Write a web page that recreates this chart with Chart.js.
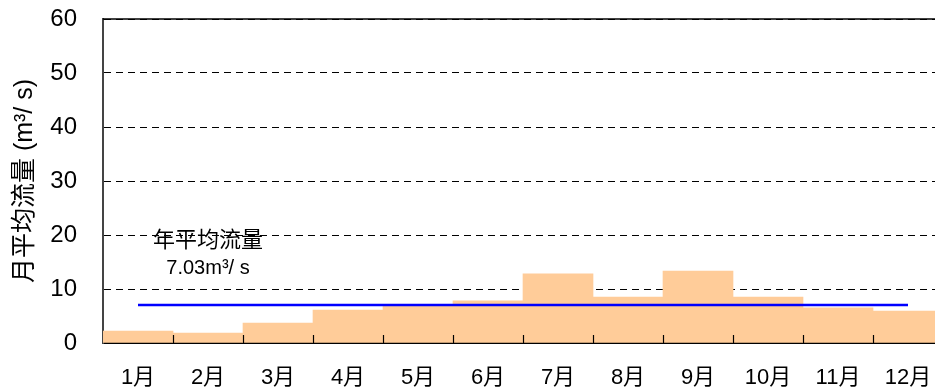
<!DOCTYPE html>
<html>
<head>
<meta charset="utf-8">
<script src="https://cdn.jsdelivr.net/npm/chart.js@4.4.1/dist/chart.umd.min.js"></script>
<style>
  html, body { margin: 0; padding: 0; overflow: hidden; background: #fff; }
  canvas { display: block; }
</style>
</head>
<body>
<canvas id="graficoVazao" width="943" height="392"></canvas>
<script>
// Meses e vazão média mensal (m³/s)
const meses = ['1月', '2月', '3月', '4月', '5月', '6月', '7月', '8月', '9月', '10月', '11月', '12月'];
const vazaoMensal = [2.2, 1.85, 3.7, 6.1, 6.9, 7.8, 12.8, 8.5, 13.3, 8.5, 6.5, 5.9];
// Vazão média anual, repetida em cada mês para traçar a linha
const vazaoAnual = [7.03, 7.03, 7.03, 7.03, 7.03, 7.03, 7.03, 7.03, 7.03, 7.03, 7.03, 7.03];
const rotuloAnual = ['年平均流量', '7.03m³/ s'];
const tituloEixoY = '月平均流量 (m³/ s)';

const fonteTexto = '"Liberation Sans", Arial, "Noto Sans CJK SC", sans-serif';

// Linha sólida no topo, marcas entre os meses e o texto da média anual
const extras = {
    id: 'extras',
    afterDraw(chart) {
        const ctx = chart.ctx;
        const area = chart.chartArea;
        const x = chart.scales.x;
        const y = chart.scales.y;

        ctx.save();
        ctx.strokeStyle = '#000';
        ctx.lineWidth = 1.5;
        ctx.beginPath();
        ctx.moveTo(area.left, area.top);
        ctx.lineTo(area.right, area.top);
        ctx.stroke();

        // marquinhas para cima nas divisas entre categorias
        const passo = (x.right - x.left) / meses.length;
        ctx.lineWidth = 1.2;
        for (let k = 1; k < meses.length; k++) {
            const px = Math.round(x.left + k * passo) + 0.5;
            ctx.beginPath();
            ctx.moveTo(px, area.bottom);
            ctx.lineTo(px, area.bottom - 8);
            ctx.stroke();
        }

        // texto da média anual
        ctx.fillStyle = '#000';
        ctx.textAlign = 'center';
        ctx.textBaseline = 'middle';
        const cx = x.getPixelForValue(1);
        ctx.font = '22px ' + fonteTexto;
        ctx.fillText(rotuloAnual[0], cx, y.getPixelForValue(18.9));
        ctx.font = '20px ' + fonteTexto;
        ctx.fillText(rotuloAnual[1], cx, y.getPixelForValue(13.8));
        ctx.restore();
    }
};

const ctx = document.getElementById('graficoVazao').getContext('2d');

new Chart(ctx, {
    data: {
        labels: meses,
        datasets: [
            {
                type: 'line',
                data: vazaoAnual,
                borderColor: '#0000ff',
                borderWidth: 2.5,
                pointRadius: 0,
                fill: false,
                order: 0
            },
            {
                type: 'bar',
                data: vazaoMensal,
                backgroundColor: '#ffcc99',
                borderWidth: 0,
                barPercentage: 1,
                categoryPercentage: 1,
                order: 1
            }
        ]
    },
    options: {
        responsive: false,
        animation: false,
        layout: { padding: { top: 19, right: 0, bottom: 0, left: 0 } },
        plugins: {
            legend: { display: false },
            tooltip: { enabled: false }
        },
        scales: {
            x: {
                offset: true,
                grid: { display: false },
                border: { display: true, color: '#000', width: 2 },
                ticks: {
                    color: '#000',
                    padding: 14,
                    maxRotation: 0,
                    autoSkip: false,
                    font: { family: fonteTexto, size: 22 }
                },
                afterFit(escala) {
                    escala.height = 49;
                    escala.paddingLeft = 0;
                    escala.paddingRight = 0;
                }
            },
            y: {
                min: 0,
                max: 60,
                grid: { color: '#000', lineWidth: 1, drawTicks: false },
                border: { display: true, color: '#444', width: 2, dash: [7, 5] },
                ticks: {
                    stepSize: 10,
                    color: '#000',
                    padding: 26,
                    font: { family: fonteTexto, size: 24 }
                },
                title: {
                    display: true,
                    text: tituloEixoY,
                    color: '#000',
                    padding: { top: 10, bottom: 0 },
                    font: { family: fonteTexto, size: 25 }
                },
                afterFit(escala) {
                    escala.width = 103;
                    escala.paddingTop = 0;
                    escala.paddingBottom = 0;
                }
            }
        }
    },
    plugins: [extras]
});
</script>
</body>
</html>
